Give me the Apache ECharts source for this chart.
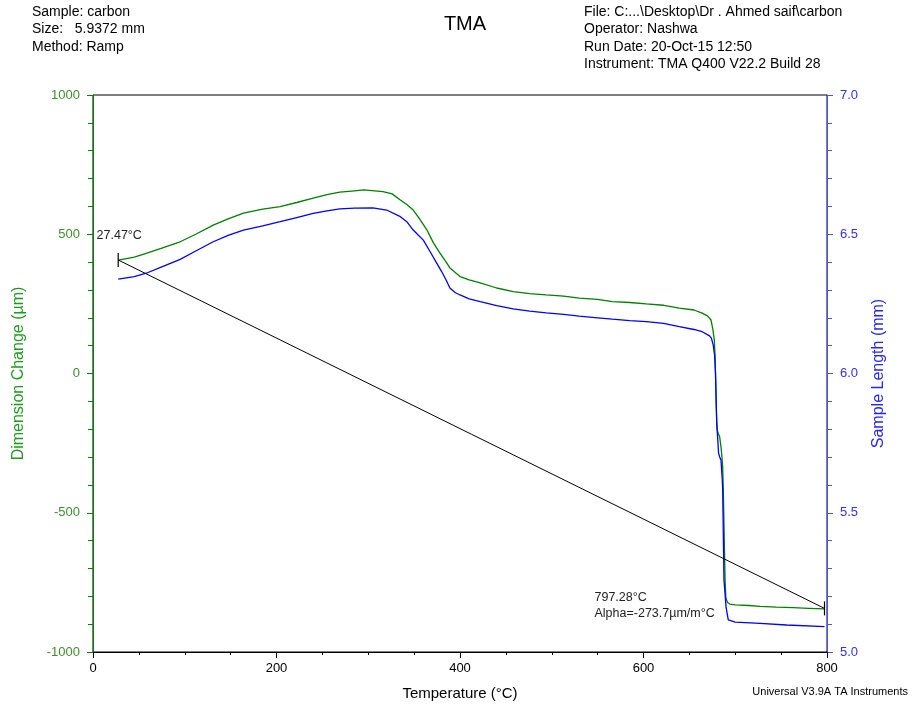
<!DOCTYPE html>
<html>
<head>
<meta charset="utf-8">
<title>TMA</title>
<script src="https://cdn.jsdelivr.net/npm/echarts/dist/echarts.min.js"></script>
<style>
  html, body { margin: 0; padding: 0; background: #fff; }
  #chart { width: 913px; height: 710px; }
</style>
</head>
<body>
<div id="chart"></div>
<script>
// Dimension change (µm) vs temperature (°C)
const dimTemp = [27.5, 45, 58, 75, 95, 112, 131, 148, 164, 185, 204, 222, 240, 255, 269, 285, 295, 316, 326, 335, 342, 349, 356, 364, 371, 378, 385.5, 389, 400, 410, 422, 440, 458, 476, 494, 513, 530, 550, 566, 585, 603, 622, 639, 655, 664, 670, 673.6, 675.5, 677.2, 678, 678.6, 679.2, 679.8, 680.4, 681.5, 683, 684.5, 685.5, 686.3, 687, 687.6, 688.3, 689, 689.8, 691.5, 694, 700, 715, 727, 745, 763, 780, 797.3];
const dimChange = [407, 418, 431, 450, 473, 500, 533, 556, 576, 590, 599, 614, 630, 642, 651, 656, 659, 653, 645, 623, 607, 587, 555, 515, 469, 433, 397, 379, 348, 336, 325, 307, 294, 287, 282, 278, 271, 266, 258, 255, 250, 245, 235, 228, 217, 206, 192, 160, 120, 60, -20, -100, -170, -205, -215, -227, -265, -300, -335, -420, -520, -640, -750, -805, -822, -828, -831, -833, -836, -839, -841, -843, -845];

// Sample length (mm) vs temperature (°C)
const lenTemp = [27.5, 45, 58, 75, 95, 112, 131, 148, 164, 185, 204, 222, 240, 255, 269, 285, 305, 320, 335, 342, 349, 360, 367, 374, 380, 385, 389, 395, 400, 410, 422, 440, 458, 476, 494, 513, 530, 550, 566, 585, 603, 622, 639, 655, 664, 672, 674, 676, 677.5, 678.5, 679.2, 679.8, 681, 681.8, 683, 684.5, 685.8, 686.3, 687, 687.7, 688.8, 690, 692.4, 700, 727, 756, 797.3];
const sampleLen = [6.339, 6.348, 6.360, 6.383, 6.410, 6.440, 6.473, 6.497, 6.515, 6.530, 6.545, 6.560, 6.575, 6.584, 6.591, 6.594, 6.595, 6.587, 6.563, 6.545, 6.515, 6.479, 6.440, 6.400, 6.366, 6.335, 6.307, 6.290, 6.282, 6.268, 6.258, 6.244, 6.232, 6.224, 6.218, 6.212, 6.206, 6.200, 6.195, 6.190, 6.186, 6.180, 6.168, 6.158, 6.150, 6.135, 6.127, 6.102, 6.066, 6.002, 5.900, 5.822, 5.760, 5.715, 5.700, 5.689, 5.620, 5.582, 5.420, 5.259, 5.212, 5.160, 5.115, 5.107, 5.103, 5.097, 5.091];

// Expansion fit between two temperatures
const fitTemp = [27.47, 797.28];
const fitDim = [407.5, -843.4];
const alphaText = 'Alpha=-273.7µm/m°C';

// Axis ticks
const xTicks = { min: 0, max: 800, step: 200 };
const dimTicks = { min: -1000, max: 1000, step: 500 };
const lenTicks = { min: 5.0, max: 7.0, step: 0.5 };

const headerLeft = ['Sample: carbon', 'Size:   5.9372 mm', 'Method: Ramp'];
const headerRight = ['File: C:...\\Desktop\\Dr . Ahmed saif\\carbon', 'Operator: Nashwa', 'Run Date: 20-Oct-15 12:50', 'Instrument: TMA Q400 V22.2 Build 28'];

const FONT = '"Liberation Sans", Arial, sans-serif';
const GREEN = '#008000';
const BLUE = '#0000ff';

const zip = (xs, ys) => xs.map((x, i) => [x, ys[i]]);

const chart = echarts.init(document.getElementById('chart'), null, { renderer: 'canvas' });

chart.setOption({
  animation: false,
  backgroundColor: '#ffffff',
  textStyle: { fontFamily: FONT },
  title: {
    text: 'TMA',
    left: 460, top: 9,
    textAlign: 'center',
    textStyle: { fontFamily: FONT, fontSize: 20, fontWeight: 'normal', color: '#000' }
  },
  graphic: [
    { type: 'text', left: 32, top: 3,
      style: { text: headerLeft.join('\n'), font: '14px ' + FONT, lineHeight: 17.5, fill: '#000' } },
    { type: 'text', left: 584, top: 3,
      style: { text: headerRight.join('\n'), font: '14px ' + FONT, lineHeight: 17.5, fill: '#000' } },
    { type: 'text', right: 5, top: 686,
      style: { text: 'Universal V3.9A TA Instruments', font: '11px ' + FONT, fill: '#000' } }
  ],
  grid: {
    left: 93, right: 86, top: 95, bottom: 58,
    show: true, borderColor: '#000', borderWidth: 1, backgroundColor: 'transparent',
    containLabel: false
  },
  xAxis: {
    type: 'value',
    min: xTicks.min, max: xTicks.max, interval: xTicks.step,
    name: 'Temperature (°C)', nameLocation: 'middle', nameGap: 34,
    nameTextStyle: { fontFamily: FONT, fontSize: 15, color: '#000' },
    axisLine: { onZero: false, lineStyle: { color: '#000', width: 1 } },
    axisTick: { show: true, inside: false, length: 6, lineStyle: { color: '#000' } },
    minorTick: { show: true, splitNumber: 4, length: 3, lineStyle: { color: '#000' } },
    axisLabel: { fontFamily: FONT, fontSize: 13, color: '#000', margin: 10 },
    splitLine: { show: false }
  },
  yAxis: [
    {
      type: 'value', position: 'left',
      min: dimTicks.min, max: dimTicks.max, interval: dimTicks.step,
      name: 'Dimension Change (µm)', nameLocation: 'middle', nameGap: 66, nameRotate: 90,
      nameTextStyle: { fontFamily: FONT, fontSize: 16, color: '#1f9a1f' },
      axisLine: { show: true, onZero: false, lineStyle: { color: GREEN, width: 1 } },
      axisTick: { show: true, length: 6, lineStyle: { color: GREEN } },
      minorTick: { show: true, splitNumber: 5, length: 5, lineStyle: { color: GREEN } },
      axisLabel: { fontFamily: FONT, fontSize: 13, color: '#3f8f30', margin: 13,
        formatter: v => String(v) },
      splitLine: { show: false }
    },
    {
      type: 'value', position: 'right',
      min: lenTicks.min, max: lenTicks.max, interval: lenTicks.step,
      name: 'Sample Length (mm)', nameLocation: 'middle', nameGap: 44, nameRotate: 90,
      nameTextStyle: { fontFamily: FONT, fontSize: 16, color: '#2424ff' },
      axisLine: { show: true, onZero: false, lineStyle: { color: '#5050ff', width: 1 } },
      axisTick: { show: true, length: 6, lineStyle: { color: '#5050ff' } },
      minorTick: { show: true, splitNumber: 5, length: 5, lineStyle: { color: '#5050ff' } },
      axisLabel: { fontFamily: FONT, fontSize: 13, color: '#3030ff', margin: 13,
        formatter: v => v.toFixed(1) },
      splitLine: { show: false }
    }
  ],
  series: [
    {
      name: 'Dimension Change', type: 'line', yAxisIndex: 0,
      data: zip(dimTemp, dimChange),
      showSymbol: false, symbol: 'none',
      lineStyle: { color: GREEN, width: 1.3 }, z: 2
    },
    {
      name: 'Sample Length', type: 'line', yAxisIndex: 1,
      data: zip(lenTemp, sampleLen),
      showSymbol: false, symbol: 'none',
      lineStyle: { color: BLUE, width: 1.3 }, z: 3
    },
    {
      name: 'Alpha fit', type: 'line', yAxisIndex: 0, z: 4,
      data: [
        { value: [fitTemp[0], fitDim[0]],
          label: { show: true, position: 'inside', offset: [1, -24], align: 'center',
            formatter: () => fitTemp[0].toFixed(2) + '°C' } },
        { value: [fitTemp[1], fitDim[1]],
          label: { show: true, position: 'inside', offset: [-230, -3], align: 'left',
            lineHeight: 16,
            formatter: () => fitTemp[1].toFixed(2) + '°C\n' + alphaText } }
      ],
      symbol: 'rect', symbolSize: [1.2, 14], showSymbol: true,
      itemStyle: { color: '#000' },
      label: { fontFamily: FONT, fontSize: 12.5, color: '#222' },
      lineStyle: { color: '#000', width: 1 }
    }
  ]
});
</script>
</body>
</html>
